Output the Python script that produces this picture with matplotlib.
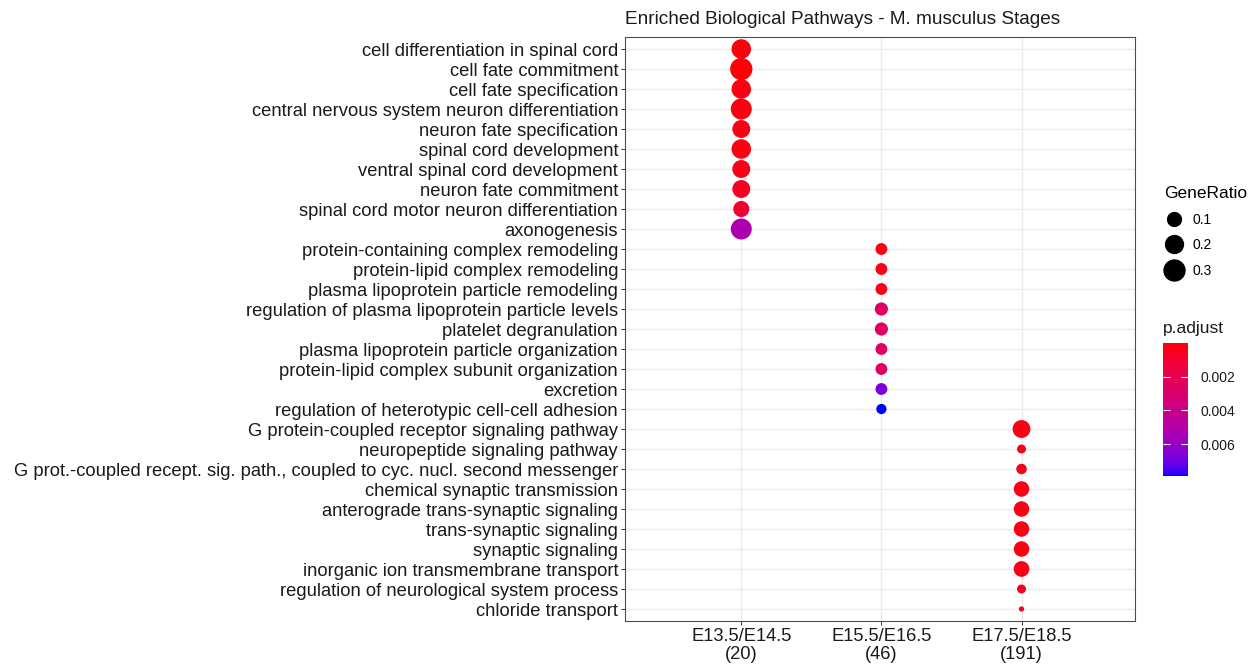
import numpy as np
import matplotlib
matplotlib.use("Agg")
import matplotlib.pyplot as plt
from matplotlib.colors import ListedColormap, Normalize
from matplotlib.lines import Line2D

plt.rcParams['font.family'] = ['Liberation Sans', 'DejaVu Sans']

# ---- data ----
clusters = ["E13.5/E14.5\n(20)", "E15.5/E16.5\n(46)", "E17.5/E18.5\n(191)"]
cluster_sizes = [20, 46, 191]

terms_1 = ["cell differentiation in spinal cord", "cell fate commitment",
           "cell fate specification", "central nervous system neuron differentiation",
           "neuron fate specification", "spinal cord development",
           "ventral spinal cord development", "neuron fate commitment",
           "spinal cord motor neuron differentiation", "axonogenesis"]
counts_1 = [5, 7, 5, 6, 4, 5, 4, 4, 3, 6]
padj_1 = [0.0002, 0.0001, 0.0002, 0.0002, 0.0003, 0.0003, 0.0004, 0.0006, 0.0009, 0.0053]

terms_2 = ["protein-containing complex remodeling", "protein-lipid complex remodeling",
           "plasma lipoprotein particle remodeling",
           "regulation of plasma lipoprotein particle levels", "platelet degranulation",
           "plasma lipoprotein particle organization",
           "protein-lipid complex subunit organization", "excretion",
           "regulation of heterotypic cell-cell adhesion"]
counts_2 = [3, 3, 3, 4, 4, 3, 3, 3, 2]
padj_2 = [0.0003, 0.0004, 0.0004, 0.0026, 0.0027, 0.0025, 0.0026, 0.0067, 0.0079]

terms_3 = ["G protein-coupled receptor signaling pathway", "neuropeptide signaling pathway",
           "G prot.-coupled recept. sig. path., coupled to cyc. nucl. second messenger",
           "chemical synaptic transmission", "anterograde trans-synaptic signaling",
           "trans-synaptic signaling", "synaptic signaling",
           "inorganic ion transmembrane transport",
           "regulation of neurological system process", "chloride transport"]
counts_3 = [38, 6, 9, 26, 26, 26, 26, 27, 6, 3]
padj_3 = [0.0003, 0.0004, 0.0005, 0.0003, 0.0003, 0.0003, 0.0003, 0.0004, 0.0006, 0.0008]

size_breaks = [0.1, 0.2, 0.3]
padj_ticks = [0.002, 0.004, 0.006]


# ---- red -> blue gradient interpolated in Lab (like ggplot) ----
M = np.array([[0.4124, 0.3576, 0.1805],
              [0.2126, 0.7152, 0.0722],
              [0.0193, 0.1192, 0.9505]])
WHITE = M.sum(axis=1)


def rgb2lab(rgb):
    c = np.asarray(rgb, float)
    lin = np.where(c <= 0.04045, c / 12.92, ((c + 0.055) / 1.055) ** 2.4)
    xyz = M @ lin / WHITE
    f = np.where(xyz > 0.008856, np.cbrt(xyz), 7.787 * xyz + 16 / 116)
    return np.array([116 * f[1] - 16, 500 * (f[0] - f[1]), 200 * (f[1] - f[2])])


def lab2rgb(lab):
    L, a, b = lab
    fy = (L + 16) / 116
    f = np.array([fy + a / 500, fy, fy - b / 200])
    xyz = np.where(f ** 3 > 0.008856, f ** 3, (f - 16 / 116) / 7.787) * WHITE
    lin = np.linalg.solve(M, xyz)
    lin = np.clip(lin, 0, 1)
    c = np.where(lin <= 0.0031308, 12.92 * lin, 1.055 * lin ** (1 / 2.4) - 0.055)
    return np.clip(c, 0, 1)


lab_r = rgb2lab([1, 0, 0])
lab_b = rgb2lab([0, 0, 1])
cmap = ListedColormap([lab2rgb(lab_r + t * (lab_b - lab_r)) for t in np.linspace(0, 1, 256)])

# ---- assemble ----
terms = terms_1 + terms_2 + terms_3
xs = [0] * len(terms_1) + [1] * len(terms_2) + [2] * len(terms_3)
ratio = ([c / cluster_sizes[0] for c in counts_1] + [c / cluster_sizes[1] for c in counts_2]
         + [c / cluster_sizes[2] for c in counts_3])
padj = padj_1 + padj_2 + padj_3
ys = np.arange(len(terms))

rmin, rmax = min(ratio), max(ratio)
dmin, dmax = 5.3, 22.3  # dot diameter range in px


def size_of(r):
    d = dmin + (dmax - dmin) * np.sqrt((np.asarray(r) - rmin) / (rmax - rmin))
    return (d * 0.72) ** 2


norm = Normalize(vmin=0, vmax=max(padj))

fig = plt.figure(figsize=(12.52, 6.66), dpi=100)
ax = fig.add_axes([625 / 1252, 1 - 621 / 666, 510 / 1252, 584 / 666])

ax.scatter(xs, ys, s=size_of(ratio), c=padj, cmap=cmap, norm=norm, linewidths=0, zorder=3)

ax.set_xticks(range(len(clusters)))
ax.set_xticklabels(clusters, fontsize=13.2, color='#1a1a1a', linespacing=1.1)
ax.set_yticks(ys)
ax.set_yticklabels(terms, fontsize=13.2, color='#1a1a1a')
ax.set_xlim(-0.83, 2.81)
ax.set_ylim(len(terms) - 0.4, -0.6)
ax.grid(True, color='#EBEBEB', lw=1.0, zorder=0)
ax.set_axisbelow(True)
for s in ax.spines.values():
    s.set_color('#4d4d4d')
    s.set_linewidth(0.8)
ax.tick_params(length=3, width=0.7, color='#333333', pad=2)
ax.set_title("Enriched Biological Pathways - M. musculus Stages", loc='left',
             fontsize=13.7, color='#1a1a1a', pad=9)

# size legend
handles = [Line2D([], [], ls='none', marker='o', color='black',
                  markersize=np.sqrt(size_of(b))) for b in size_breaks]
leg = fig.legend(handles, [str(b) for b in size_breaks], title="GeneRatio",
                 loc='upper left', bbox_to_anchor=(1154 / 1252, 1 - 176 / 666),
                 frameon=False, fontsize=10, title_fontsize=12.5,
                 labelspacing=0.85, handletextpad=0.6, handlelength=1.5, borderpad=0.2)
leg._legend_box.align = 'left'

# colour bar
cax = fig.add_axes([1163 / 1252, 1 - 476 / 666, 25 / 1252, 133 / 666])
cb = fig.colorbar(plt.cm.ScalarMappable(norm=norm, cmap=cmap), cax=cax)
cb.outline.set_visible(False)
cax.invert_yaxis()
cb.set_ticks(padj_ticks)
cb.set_ticklabels([f"{t:.3f}" for t in padj_ticks])
cax.tick_params(axis='y', direction='in', color='white', length=5, width=0.8,
                left=True, right=True, labelsize=10, labelcolor='#1a1a1a', pad=9)
fig.text(1163 / 1252, 1 - 328 / 666, "p.adjust", fontsize=12.5, color='#1a1a1a',
         va='center', ha='left')

fig.savefig("out.png", dpi=100)
